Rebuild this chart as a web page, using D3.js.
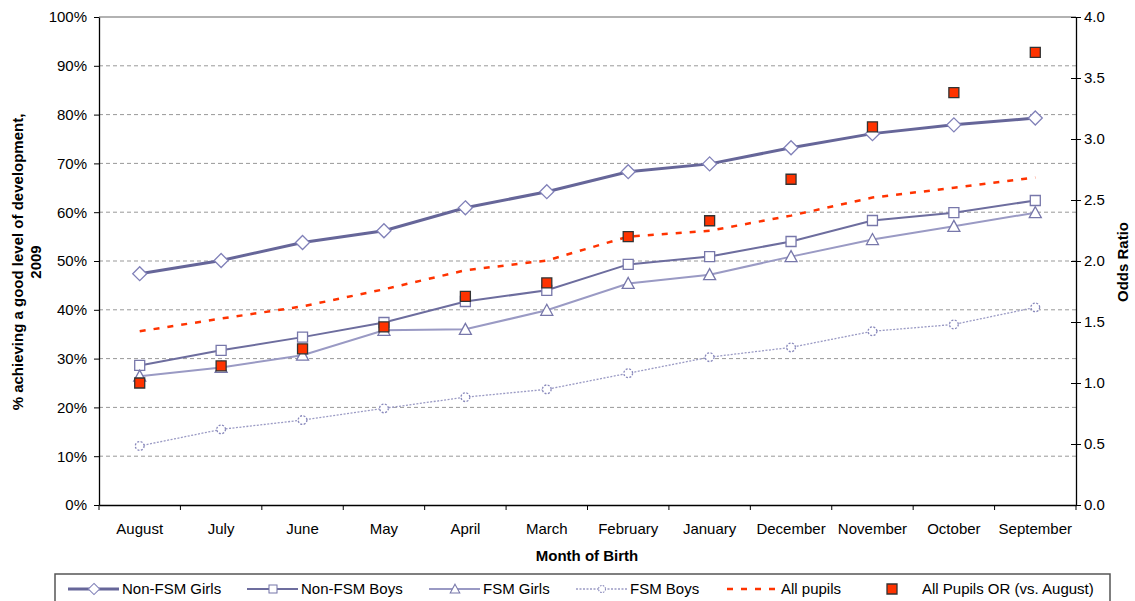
<!DOCTYPE html>
<html lang="en">
<head>
<meta charset="utf-8">
<title>Good level of development by month of birth, 2009</title>
<script src="https://cdn.jsdelivr.net/npm/d3@7"></script>
<style>
  body { margin: 0; background: #fff; }
  svg text { font-family: "Liberation Sans", Arial, sans-serif; }
</style>
</head>
<body>
<script>
// data
var months = ["August", "July", "June", "May", "April", "March", "February",
              "January", "December", "November", "October", "September"];
var nonFsmGirls = [47.4, 50.1, 53.8, 56.2, 60.9, 64.2, 68.3, 69.9, 73.2, 76.1, 77.9, 79.3];
var nonFsmBoys  = [28.6, 31.7, 34.4, 37.4, 41.7, 44.0, 49.3, 50.9, 54.0, 58.3, 59.9, 62.4];
var fsmGirls    = [26.4, 28.2, 30.7, 35.8, 36.0, 39.9, 45.4, 47.2, 50.9, 54.4, 57.1, 59.9];
var fsmBoys     = [12.1, 15.5, 17.4, 19.8, 22.1, 23.7, 27.0, 30.3, 32.3, 35.6, 37.0, 40.5];
var allPupils   = [35.6, 38.2, 40.7, 44.2, 48.1, 50.1, 55.0, 56.2, 59.3, 63.0, 65.0, 67.1];
var oddsRatio   = [1.00, 1.14, 1.28, 1.46, 1.71, 1.82, 2.20, 2.33, 2.67, 3.10, 3.38, 3.71];
var pctTicks = [0, 10, 20, 30, 40, 50, 60, 70, 80, 90, 100];
var orTicks  = [0, 0.5, 1, 1.5, 2, 2.5, 3, 3.5, 4];

var W = 1135, H = 601;
var pLeft = 99, pRight = 1076, pTop = 17, pBottom = 505;
var fs = 15;

var svg = d3.select("body").append("svg")
    .attr("width", W).attr("height", H);

var x = d3.scaleBand().domain(months).range([pLeft, pRight]);
var yL = d3.scaleLinear().domain([0, 100]).range([pBottom, pTop]);
var yR = d3.scaleLinear().domain([0, 4]).range([pBottom, pTop]);
var cx = function (m) { return x(m) + x.bandwidth() / 2; };

// gridlines
svg.append("g").selectAll("line")
    .data(pctTicks.filter(function (d) { return d > 0 && d < 100; }))
    .enter().append("line")
    .attr("x1", pLeft).attr("x2", pRight)
    .attr("y1", function (d) { return yL(d); })
    .attr("y2", function (d) { return yL(d); })
    .attr("stroke", "#999").attr("stroke-dasharray", "4,3");
svg.append("line")
    .attr("x1", pLeft).attr("x2", pRight).attr("y1", pTop).attr("y2", pTop)
    .attr("stroke", "#999").attr("stroke-width", 1.5);

// axes
var axL = svg.append("g").attr("transform", "translate(" + pLeft + ",0)")
    .call(d3.axisLeft(yL).tickValues(pctTicks).tickSize(5).tickSizeOuter(0)
        .tickFormat(function (d) { return d + "%"; }));
var axR = svg.append("g").attr("transform", "translate(" + pRight + ",0)")
    .call(d3.axisRight(yR).tickValues(orTicks).tickSize(5).tickSizeOuter(0)
        .tickFormat(d3.format(".1f")));
axR.selectAll(".tick line").attr("x1", -5);
var axB = svg.append("g").attr("transform", "translate(0," + pBottom + ")")
    .call(d3.axisBottom(x).tickSize(0).tickSizeOuter(0).tickPadding(18));
// tick marks between the months
axB.selectAll(".bound").data(d3.range(months.length + 1)).enter().append("line")
    .attr("x1", function (i) { return pLeft + i * x.step(); })
    .attr("x2", function (i) { return pLeft + i * x.step(); })
    .attr("y1", 0).attr("y2", 5).attr("stroke", "#000");

[axL, axR, axB].forEach(function (a) {
    a.selectAll("path.domain").attr("stroke", "#000").attr("stroke-width", 1.3);
    a.selectAll(".tick line").attr("stroke", "#000");
    a.selectAll("text").attr("font-size", fs).attr("fill", "#000")
        .attr("font-family", "Liberation Sans, Arial, sans-serif");
});
axL.selectAll("text").attr("x", -12);
axR.selectAll("text").attr("x", 8);

// axis titles
svg.append("text").attr("transform", "translate(23,262) rotate(-90)")
    .attr("text-anchor", "middle").attr("font-size", fs).attr("font-weight", "bold")
    .text("% achieving a good level of development,");
svg.append("text").attr("transform", "translate(41,262) rotate(-90)")
    .attr("text-anchor", "middle").attr("font-size", fs).attr("font-weight", "bold")
    .text("2009");
svg.append("text").attr("transform", "translate(1128,262) rotate(-90)")
    .attr("text-anchor", "middle").attr("font-size", fs).attr("font-weight", "bold")
    .text("Odds Ratio");
svg.append("text").attr("x", 587).attr("y", 561)
    .attr("text-anchor", "middle").attr("font-size", fs).attr("font-weight", "bold")
    .text("Month of Birth");

// markers
function marker(type) {
    if (type == "diamond") return "M0,-7L7,0L0,7L-7,0Z";
    if (type == "square") return "M-5,-5H5V5H-5Z";
    if (type == "triangle") return "M0,-6L6,5H-6Z";
    if (type == "circle") return d3.symbol(d3.symbolCircle, 60)();
    return "M-5,-5H5V5H-5Z";
}

var series = [
    {name: "Non-FSM Girls", values: nonFsmGirls, color: "#666699", width: 3, dash: null, mark: "diamond", mstroke: "#8080b8"},
    {name: "Non-FSM Boys", values: nonFsmBoys, color: "#6d6d9e", width: 2, dash: null, mark: "square", mstroke: "#7777aa"},
    {name: "FSM Girls", values: fsmGirls, color: "#9a9ac4", width: 2, dash: null, mark: "triangle", mstroke: "#7777aa"},
    {name: "FSM Boys", values: fsmBoys, color: "#9a9ac4", width: 1.3, dash: "2,1.5", mark: "circle", mstroke: "#8888bb"}
];

var line = d3.line()
    .x(function (d, i) { return cx(months[i]); })
    .y(function (d) { return yL(d); });

series.forEach(function (s) {
    svg.append("path").datum(s.values).attr("d", line)
        .attr("fill", "none").attr("stroke", s.color)
        .attr("stroke-width", s.width)
        .attr("stroke-dasharray", s.dash);
    svg.append("g").selectAll("path").data(s.values).enter().append("path")
        .attr("d", marker(s.mark))
        .attr("transform", function (d, i) { return "translate(" + cx(months[i]) + "," + yL(d) + ")"; })
        .attr("fill", "#fff").attr("stroke", s.mstroke).attr("stroke-width", 1.3)
        .attr("stroke-dasharray", s.mark == "circle" ? "2,1.5" : null);
});

// all pupils, dashed red
svg.append("path").datum(allPupils).attr("d", line)
    .attr("fill", "none").attr("stroke", "#ff3300").attr("stroke-width", 2.5)
    .attr("stroke-dasharray", "6,8");

// odds ratio points on the right axis
svg.append("g").selectAll("path").data(oddsRatio).enter().append("path")
    .attr("d", marker("or"))
    .attr("transform", function (d, i) { return "translate(" + cx(months[i]) + "," + yR(d) + ")"; })
    .attr("fill", "#ff3300").attr("stroke", "#333").attr("stroke-width", 1.3);

// legend
var lg = svg.append("g");
lg.append("rect").attr("x", 55).attr("y", 574).attr("width", 1055).attr("height", 40)
    .attr("fill", "#fff").attr("stroke", "#555").attr("stroke-width", 1.5);
var legendPos = [68, 247, 429, 576];
var ly = 589;
series.forEach(function (s, i) {
    var x0 = legendPos[i];
    lg.append("line").attr("x1", x0).attr("x2", x0 + 51).attr("y1", ly).attr("y2", ly)
        .attr("stroke", s.color).attr("stroke-width", s.width).attr("stroke-dasharray", s.dash);
    lg.append("path").attr("d", marker(s.mark))
        .attr("transform", "translate(" + (x0 + 26) + "," + ly + ") scale(0.8)")
        .attr("fill", "#fff").attr("stroke", s.mstroke).attr("stroke-width", 1.3)
        .attr("stroke-dasharray", s.mark == "circle" ? "2,1.5" : null);
    lg.append("text").attr("x", x0 + 54).attr("y", ly + 5).attr("font-size", fs)
        .text(s.name);
});
lg.append("line").attr("x1", 727).attr("x2", 778).attr("y1", ly).attr("y2", ly)
    .attr("stroke", "#ff3300").attr("stroke-width", 2.5).attr("stroke-dasharray", "6,8");
lg.append("text").attr("x", 781).attr("y", ly + 5).attr("font-size", fs).text("All pupils");
lg.append("path").attr("d", marker("or")).attr("transform", "translate(892," + ly + ")")
    .attr("fill", "#ff3300").attr("stroke", "#333").attr("stroke-width", 1.3);
lg.append("text").attr("x", 922).attr("y", ly + 5).attr("font-size", fs).text("All Pupils OR (vs. August)");
</script>
</body>
</html>
